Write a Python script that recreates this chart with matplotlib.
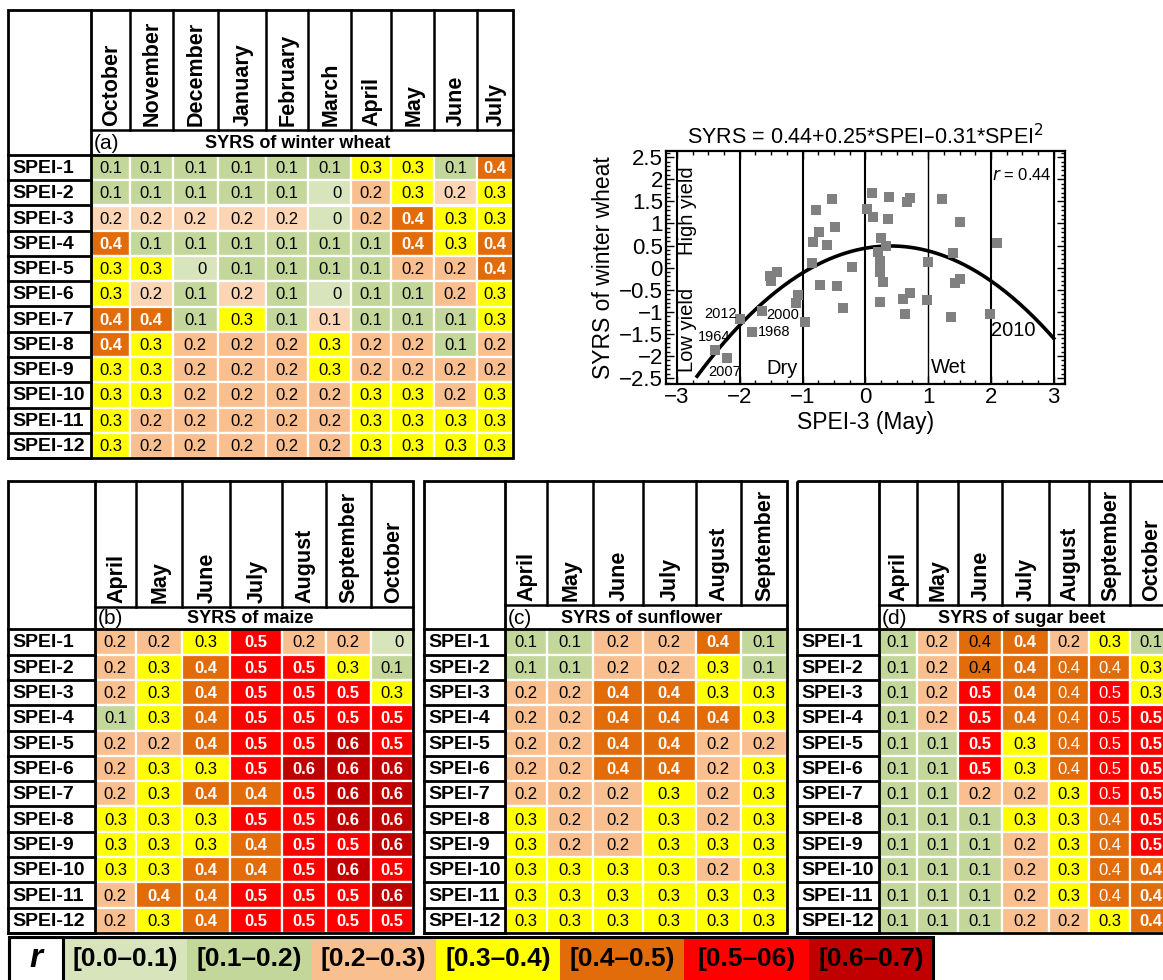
import numpy as np
import matplotlib
matplotlib.use("Agg")
import matplotlib.pyplot as plt
from matplotlib.patches import Rectangle
from matplotlib.ticker import MultipleLocator, FuncFormatter

plt.rcParams["font.family"] = ["Liberation Sans", "DejaVu Sans"]

# correlation classes
class_labels = ["[0.0\u20130.1)", "[0.1\u20130.2)", "[0.2\u20130.3)", "[0.3\u20130.4)",
                "[0.4\u20130.5)", "[0.5\u201306)", "[0.6\u20130.7)"]
class_colors = ["#D8E4BC", "#C4D79B", "#FABF8F", "#FFFF00", "#E26B0A", "#FF0000", "#C00000"]
light_peach = "#FCD5B4"

spei_rows = ["SPEI-%d" % i for i in range(1, 13)]

wheat_months = ["October", "November", "December", "January", "February",
                "March", "April", "May", "June", "July"]
wheat_r = [
    [0.1, 0.1, 0.1, 0.1, 0.1, 0.1, 0.3, 0.3, 0.1, 0.4],
    [0.1, 0.1, 0.1, 0.1, 0.1, 0.0, 0.2, 0.3, 0.2, 0.3],
    [0.2, 0.2, 0.2, 0.2, 0.2, 0.0, 0.2, 0.4, 0.3, 0.3],
    [0.4, 0.1, 0.1, 0.1, 0.1, 0.1, 0.1, 0.4, 0.3, 0.4],
    [0.3, 0.3, 0.0, 0.1, 0.1, 0.1, 0.1, 0.2, 0.2, 0.4],
    [0.3, 0.2, 0.1, 0.2, 0.1, 0.0, 0.1, 0.1, 0.2, 0.3],
    [0.4, 0.4, 0.1, 0.3, 0.1, 0.1, 0.1, 0.1, 0.1, 0.3],
    [0.4, 0.3, 0.2, 0.2, 0.2, 0.3, 0.2, 0.2, 0.1, 0.2],
    [0.3, 0.3, 0.2, 0.2, 0.2, 0.3, 0.2, 0.2, 0.2, 0.2],
    [0.3, 0.3, 0.2, 0.2, 0.2, 0.2, 0.3, 0.3, 0.2, 0.3],
    [0.3, 0.2, 0.2, 0.2, 0.2, 0.2, 0.3, 0.3, 0.3, 0.3],
    [0.3, 0.2, 0.2, 0.2, 0.2, 0.2, 0.3, 0.3, 0.3, 0.3],
]
# cells shaded in the lighter peach tone
wheat_light = [(1, 8), (2, 0), (2, 1), (2, 2), (2, 3), (2, 4), (5, 1), (5, 3), (6, 5)]

maize_months = ["April", "May", "June", "July", "August", "September", "October"]
maize_r = [
    [0.2, 0.2, 0.3, 0.5, 0.2, 0.2, 0.0],
    [0.2, 0.3, 0.4, 0.5, 0.5, 0.3, 0.1],
    [0.2, 0.3, 0.4, 0.5, 0.5, 0.5, 0.3],
    [0.1, 0.3, 0.4, 0.5, 0.5, 0.5, 0.5],
    [0.2, 0.2, 0.4, 0.5, 0.5, 0.6, 0.5],
    [0.2, 0.3, 0.3, 0.5, 0.6, 0.6, 0.6],
    [0.2, 0.3, 0.4, 0.4, 0.5, 0.6, 0.6],
    [0.3, 0.3, 0.3, 0.5, 0.5, 0.6, 0.6],
    [0.3, 0.3, 0.3, 0.4, 0.5, 0.5, 0.6],
    [0.3, 0.3, 0.4, 0.4, 0.5, 0.6, 0.5],
    [0.2, 0.4, 0.4, 0.5, 0.5, 0.5, 0.6],
    [0.2, 0.3, 0.4, 0.5, 0.5, 0.5, 0.5],
]

sunflower_months = ["April", "May", "June", "July", "August", "September"]
sunflower_r = [
    [0.1, 0.1, 0.2, 0.2, 0.4, 0.1],
    [0.1, 0.1, 0.2, 0.2, 0.3, 0.1],
    [0.2, 0.2, 0.4, 0.4, 0.3, 0.3],
    [0.2, 0.2, 0.4, 0.4, 0.4, 0.3],
    [0.2, 0.2, 0.4, 0.4, 0.2, 0.2],
    [0.2, 0.2, 0.4, 0.4, 0.2, 0.3],
    [0.2, 0.2, 0.2, 0.3, 0.2, 0.3],
    [0.3, 0.2, 0.2, 0.3, 0.2, 0.3],
    [0.3, 0.2, 0.2, 0.3, 0.3, 0.3],
    [0.3, 0.3, 0.3, 0.3, 0.2, 0.3],
    [0.3, 0.3, 0.3, 0.3, 0.3, 0.3],
    [0.3, 0.3, 0.3, 0.3, 0.3, 0.3],
]

beet_months = ["April", "May", "June", "July", "August", "September", "October"]
beet_r = [
    [0.1, 0.2, 0.4, 0.4, 0.2, 0.3, 0.1],
    [0.1, 0.2, 0.4, 0.4, 0.4, 0.4, 0.3],
    [0.1, 0.2, 0.5, 0.4, 0.4, 0.5, 0.3],
    [0.1, 0.2, 0.5, 0.4, 0.4, 0.5, 0.5],
    [0.1, 0.1, 0.5, 0.3, 0.4, 0.5, 0.5],
    [0.1, 0.1, 0.5, 0.3, 0.4, 0.5, 0.5],
    [0.1, 0.1, 0.2, 0.2, 0.3, 0.5, 0.5],
    [0.1, 0.1, 0.1, 0.3, 0.3, 0.4, 0.5],
    [0.1, 0.1, 0.1, 0.2, 0.3, 0.4, 0.5],
    [0.1, 0.1, 0.1, 0.2, 0.3, 0.4, 0.4],
    [0.1, 0.1, 0.1, 0.2, 0.3, 0.4, 0.4],
    [0.1, 0.1, 0.1, 0.2, 0.2, 0.3, 0.4],
]
beet_dark_text = [(0, 2), (1, 2)]
beet_plain_cols = [4, 5]

# SPEI-3 (May) vs standardized yield residuals of winter wheat
spei3_may = [-2.39, -2.21, -2.00, -1.80, -1.64, -1.52, -1.50, -1.41, -1.11, -1.08,
             -0.96, -0.85, -0.83, -0.79, -0.74, -0.72, -0.61, -0.53, -0.49, -0.45,
             -0.35, -0.21, 0.03, 0.10, 0.12, 0.20, 0.23, 0.23, 0.23, 0.25,
             0.23, 0.28, 0.33, 0.36, 0.37, 0.60, 0.63, 0.66, 0.71, 0.71,
             0.98, 1.00, 1.22, 1.37, 1.39, 1.42, 1.50, 1.51, 1.99, 2.09]
syrs_wheat = [-1.86, -2.05, -1.16, -1.45, -0.98, -0.19, -0.31, -0.09, -0.81, -0.61,
              -1.24, 0.11, 0.57, 1.31, 0.80, -0.39, 0.51, 1.56, 0.93, -0.41,
              -0.92, 0.02, 1.32, 1.69, 1.14, 0.36, 0.14, 0.02, -0.09, 0.67,
              -0.77, -0.33, 0.50, 1.11, 1.61, -0.71, -1.06, 1.49, 1.57, -0.58,
              -0.73, 0.12, 1.56, -1.11, 0.33, -0.35, -0.25, 1.03, -1.06, 0.56]
fit_coef = [0.44, 0.25, -0.31]
r_value = 0.44
year_labels = ["2012", "1964", "2007", "2000", "1968", "2010"]
year_pos = [(-2.31, -1.06), (-2.41, -1.56), (-2.24, -2.37),
            (-1.32, -1.07), (-1.45, -1.46), (2.36, -1.43)]
year_size = [10.5, 10.5, 10.5, 10.5, 10.5, 14.5]

W, H = 1163, 980
fig = plt.figure(figsize=(W / 100, H / 100), dpi=100)
canvas = fig.add_axes([0, 0, 1, 1])
canvas.set_xlim(0, W)
canvas.set_ylim(H, 0)
canvas.axis("off")


def line(x0, x1, y0, y1, lw=1.8):
    canvas.plot([x0, x1], [y0, y1], color="black", lw=lw, solid_capstyle="projecting")


def draw_table(left, edges, top, head_bot, title_bot, bottom, months, vals, tag, title,
               light=(), dark_text=(), plain_cols=()):
    right = edges[-1]
    row_h = (bottom - title_bot) / len(vals)
    for i, row in enumerate(vals):
        y0 = title_bot + i * row_h
        for j, v in enumerate(row):
            x0, x1 = edges[j], edges[j + 1]
            k = int(round(v * 10))
            face = light_peach if (i, j) in light else class_colors[k]
            canvas.add_patch(Rectangle((x0, y0), x1 - x0, row_h, facecolor=face,
                                       edgecolor="white", lw=1.6))
            txt = "0" if k == 0 else "%.1f" % v
            strong = k >= 4 and (i, j) not in dark_text
            color = "white" if strong else "black"
            weight = "bold" if strong and j not in plain_cols else "normal"
            canvas.text((x0 + x1) / 2 + 11.5, y0 + row_h / 2 + 1, txt, ha="right",
                        va="center", fontsize=12, color=color, fontweight=weight)
        canvas.text(left + 4, y0 + row_h / 2 + 1, spei_rows[i], ha="left", va="center",
                    fontsize=14, fontweight="bold")
        line(left, edges[0], y0 + row_h, y0 + row_h, lw=2.0)
    for j, m in enumerate(months):
        cx = (edges[j] + edges[j + 1]) / 2
        canvas.text(cx + 1, head_bot - 4, m, rotation=90, ha="center", va="bottom",
                    fontsize=15.5, fontweight="bold")
    for x in edges[1:-1]:
        line(x, x, top, head_bot, lw=1.8)
    line(edges[0], right, head_bot, head_bot)
    line(left, right, title_bot, title_bot, lw=2.0)
    line(edges[0], edges[0], top, bottom, lw=2.0)
    canvas.add_patch(Rectangle((left, top), right - left, bottom - top, fill=False,
                               edgecolor="black", lw=2.0))
    ty = (head_bot + title_bot) / 2 + 1
    canvas.text(edges[0] + 3, ty, tag, ha="left", va="center", fontsize=15)
    canvas.text((edges[0] + right) / 2 - 4, ty, title, ha="center", va="center",
                fontsize=13, fontweight="bold")


draw_table(8, [91, 130, 172.7, 218.3, 266, 308.3, 351, 391, 434.3, 476.7, 513],
           10, 130, 155, 458, wheat_months, wheat_r, "(a)", "SYRS of winter wheat",
           light=wheat_light)
draw_table(8, [95, 136, 181.7, 230, 281.7, 325.7, 371, 413.3],
           481, 606.5, 629.3, 933, maize_months, maize_r, "(b)", "SYRS of maize")
draw_table(424, [505, 546.7, 593.3, 642.7, 696, 740.7, 786.7],
           481, 605, 629.3, 933, sunflower_months, sunflower_r, "(c)", "SYRS of sunflower")
draw_table(797.3, [879, 916.7, 958.3, 1001.7, 1049, 1089.3, 1130, 1172],
           481, 605, 629.3, 933, beet_months, beet_r, "(d)", "SYRS of sugar beet",
           dark_text=beet_dark_text, plain_cols=beet_plain_cols)

# colour key along the bottom
key_left, key_r_right, key_right, key_top, key_bot = 9, 63, 933, 937, 982
sw = (key_right - key_r_right) / len(class_labels)
for k, lab in enumerate(class_labels):
    x0 = key_r_right + k * sw
    canvas.add_patch(Rectangle((x0, key_top), sw, key_bot - key_top,
                               facecolor=class_colors[k], edgecolor="none"))
    canvas.text(x0 + sw / 2, (key_top + key_bot) / 2 - 1, lab, ha="center", va="center",
                fontsize=19, fontweight="bold")
canvas.add_patch(Rectangle((key_left, key_top), key_r_right - key_left, key_bot - key_top,
                           facecolor="white", edgecolor="black", lw=2.2))
canvas.text((key_left + key_r_right) / 2, (key_top + key_bot) / 2 - 1, "r", ha="center",
            va="center", fontsize=24, fontweight="bold", fontstyle="italic")
canvas.add_patch(Rectangle((key_left, key_top), key_right - key_left, key_bot - key_top,
                           fill=False, edgecolor="black", lw=2.2))

# scatter of SYRS against SPEI-3 (May)
ax_l, ax_r, ax_t, ax_b = 665.7, 1065, 151, 384.3
sax = fig.add_axes([ax_l / W, 1 - ax_b / H, (ax_r - ax_l) / W, (ax_b - ax_t) / H])
sax.set_xlim(-3.18, 3.18)
sax.set_ylim(-2.64, 2.64)
for x in range(-3, 4):
    sax.axvline(x, color="black", lw=1.5 if x != 1 else 1.0, zorder=1)
xs = np.linspace(-2.68, 3, 200)
sax.plot(xs, fit_coef[0] + fit_coef[1] * xs + fit_coef[2] * xs ** 2, color="black",
         lw=2.6, zorder=2)
sax.scatter(spei3_may, syrs_wheat, marker="s", s=42, color="#808080", linewidths=0,
            zorder=3)
for lab, (px, py), fs in zip(year_labels, year_pos, year_size):
    sax.text(px, py, lab, ha="center", va="center", fontsize=fs, zorder=4)
sax.text(-2.83, 1.30, "High yield", rotation=90, ha="center", va="center", fontsize=14.5)
sax.text(-2.83, -1.41, "Low yield", rotation=90, ha="center", va="center", fontsize=14.5)
sax.text(-1.32, -2.28, "Dry", ha="center", va="center", fontsize=14.5)
sax.text(1.33, -2.25, "Wet", ha="center", va="center", fontsize=14.5)
sax.text(2.50, 2.10, "$r$ = %.2f" % r_value, ha="center", va="center", fontsize=12)

fmt = FuncFormatter(lambda v, p: ("%g" % round(v, 2)).replace("-", "\u2212"))
sax.xaxis.set_major_locator(MultipleLocator(1))
sax.xaxis.set_minor_locator(MultipleLocator(0.25))
sax.yaxis.set_major_locator(MultipleLocator(0.5))
sax.yaxis.set_minor_locator(MultipleLocator(0.1))
sax.xaxis.set_major_formatter(fmt)
sax.yaxis.set_major_formatter(fmt)
sax.tick_params(which="both", direction="in", top=True, right=True, width=1.0)
sax.tick_params(which="major", length=6, labelsize=16, pad=2)
sax.tick_params(which="minor", length=3)
for sp in sax.spines.values():
    sp.set_linewidth(1.6)
sax.set_xlabel("SPEI-3 (May)", fontsize=16.5, labelpad=2)
sax.set_ylabel("SYRS of winter wheat", fontsize=16.5, labelpad=3)
sax.set_title("SYRS = %.2f+%.2f*SPEI\u2013%.2f*SPEI$^2$"
              % (fit_coef[0], fit_coef[1], -fit_coef[2]), fontsize=15.5, pad=5)

fig.savefig("out.png", dpi=100)
